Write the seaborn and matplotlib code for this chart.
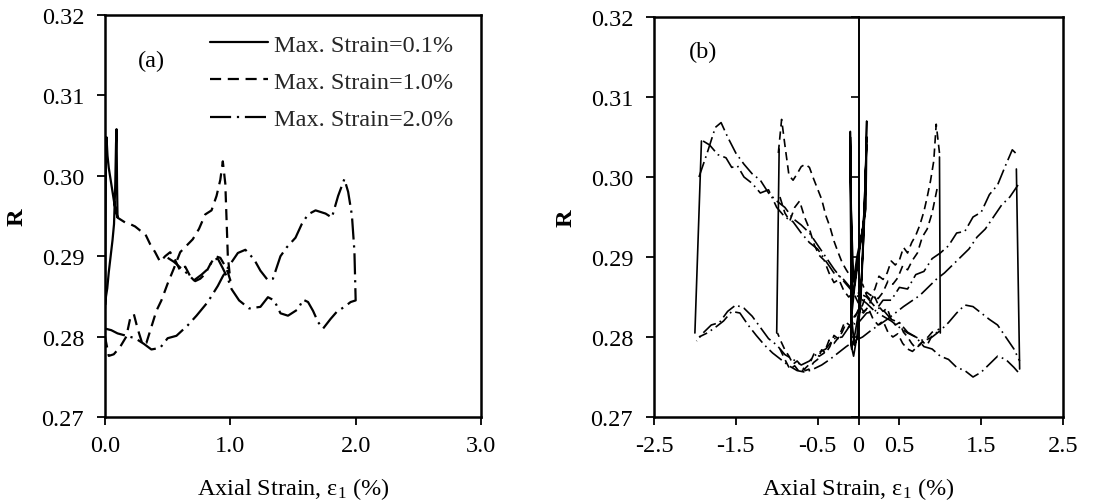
import matplotlib
matplotlib.use("Agg")
import matplotlib.pyplot as plt
from matplotlib.lines import Line2D
import seaborn as sns

# ---------------- Panel (a) data ----------------
a_xticks = [0.0, 1.0, 2.0, 3.0]
a_xticklabels = ["0.0", "1.0", "2.0", "3.0"]
yticks = [0.27, 0.28, 0.29, 0.30, 0.31, 0.32]
yticklabels = ["0.27", "0.28", "0.29", "0.30", "0.31", "0.32"]
legend_labels = ["Max. Strain=0.1%", "Max. Strain=1.0%", "Max. Strain=2.0%"]

a01_x = [0.000, 0.004, 0.008, 0.012, 0.020, 0.030, 0.045, 0.060, 0.075, 0.090, 0.100,
         0.096, 0.092, 0.088, 0.082, 0.072, 0.060, 0.045, 0.030, 0.018, 0.008, 0.003]
a01_R = [0.2835, 0.2935, 0.3030, 0.3048, 0.3025, 0.3010, 0.2995, 0.2980, 0.2965, 0.2955, 0.2948,
         0.2990, 0.3058, 0.3040, 0.2990, 0.2940, 0.2920, 0.2900, 0.2880, 0.2860, 0.2850, 0.2840]

a10_x = [0.00, 0.03, 0.07, 0.12, 0.17, 0.20, 0.23, 0.26, 0.30, 0.33, 0.37, 0.41, 0.45, 0.50,
         0.55, 0.60, 0.65, 0.70, 0.75, 0.80, 0.85, 0.89, 0.92, 0.94, 0.96, 0.98, 1.00,
         0.98, 0.95, 0.92, 0.88, 0.84, 0.80, 0.76, 0.72, 0.68, 0.64, 0.60, 0.56, 0.52,
         0.48, 0.44, 0.40, 0.36, 0.32, 0.28, 0.24, 0.20, 0.16, 0.12, 0.10]
a10_R = [0.2800, 0.2776, 0.2778, 0.2787, 0.2800, 0.2822, 0.2828, 0.2810, 0.2790, 0.2792,
         0.2812, 0.2832, 0.2845, 0.2866, 0.2885, 0.2905, 0.2913, 0.2921, 0.2934, 0.2952,
         0.2957, 0.2975, 0.2995, 0.3018, 0.2990, 0.2900, 0.2870,
         0.2880, 0.2890, 0.2898, 0.2900, 0.2890, 0.2878, 0.2872, 0.2869, 0.2875, 0.2887,
         0.2882, 0.2895, 0.2905, 0.2900, 0.2893, 0.2905, 0.2915, 0.2928, 0.2932, 0.2937,
         0.2940, 0.2942, 0.2946, 0.2948]

a20_x = [0.00, 0.05, 0.10, 0.17, 0.24, 0.31, 0.37, 0.44, 0.50, 0.57, 0.66, 0.73, 0.82, 0.90,
         0.94, 0.99, 1.06, 1.12, 1.19, 1.24, 1.30, 1.34, 1.40, 1.45, 1.52, 1.57, 1.62, 1.68,
         1.76, 1.81, 1.86, 1.91, 1.94, 1.97, 1.99, 2.00,
         1.96, 1.91, 1.85, 1.80, 1.74, 1.70, 1.66, 1.62, 1.58, 1.54, 1.46, 1.40, 1.35, 1.30,
         1.24, 1.15, 1.07, 1.01, 0.98, 0.94, 0.90, 0.86, 0.82, 0.77, 0.71, 0.66, 0.60, 0.55, 0.50]
a20_R = [0.2810, 0.2808, 0.2804, 0.2801, 0.2798, 0.2791, 0.2784, 0.2786, 0.2798, 0.2801,
         0.2814, 0.2826, 0.2843, 0.2863, 0.2875, 0.2888, 0.2904, 0.2908, 0.2896, 0.2882,
         0.2870, 0.2872, 0.2900, 0.2911, 0.2923, 0.2940, 0.2952, 0.2957, 0.2953, 0.2948,
         0.2975, 0.2996, 0.2980, 0.2951, 0.2906, 0.2845,
         0.2843, 0.2837, 0.2831, 0.2822, 0.2810, 0.2818, 0.2832, 0.2843, 0.2846, 0.2834,
         0.2826, 0.2829, 0.2845, 0.2849, 0.2837, 0.2835, 0.2845, 0.2859, 0.2872, 0.2885,
         0.2897, 0.2895, 0.2884, 0.2877, 0.2870, 0.2878, 0.2886, 0.2893, 0.2898]

# ---------------- Panel (b) data ----------------
b_xticks = [-2.5, -1.5, -0.5, 0.0, 0.5, 1.5, 2.5]
b_xticklabels = ["-2.5", "-1.5", "-0.5", "0", "0.5", "1.5", "2.5"]

# solid, max strain 0.1 %: several narrow cycles
b01_x = [0.00, 0.04, 0.08, 0.10, 0.09, 0.06, 0.02, -0.02, -0.06, -0.09, -0.10, -0.08, -0.05,
         -0.01, 0.03, 0.07, 0.09, 0.10, 0.08, 0.05, 0.01, -0.03, -0.07, -0.095, -0.10, -0.09,
         -0.06, -0.02, 0.02, 0.06, 0.085, 0.10, 0.07, 0.03, -0.01, -0.05, -0.08, -0.10,
         -0.085, -0.05, 0.00]
b01_R = [0.2815, 0.2880, 0.2990, 0.3040, 0.2960, 0.2940, 0.2920, 0.2900, 0.2870, 0.2960,
         0.3050, 0.2820, 0.2790, 0.2800, 0.2850, 0.2940, 0.3000, 0.3070, 0.2970, 0.2935,
         0.2910, 0.2880, 0.2850, 0.3000, 0.3057, 0.2790, 0.2776, 0.2800, 0.2840, 0.2920,
         0.3010, 0.3050, 0.2950, 0.2920, 0.2890, 0.2860, 0.2830, 0.3030, 0.2785, 0.2800,
         0.2830]

# dashed, max strain 1.0 %: two cycles, each a rightward and a leftward branch
b10_r1_x = [-0.98, -0.94, -0.90, -0.85, -0.80, -0.75, -0.70, -0.65, -0.60, -0.55, -0.50, -0.45,
            -0.40, -0.35, -0.30, -0.25, -0.20, -0.15, -0.10, -0.05, 0.00, 0.05, 0.10, 0.15,
            0.20, 0.25, 0.30, 0.35, 0.40, 0.45, 0.50, 0.55, 0.60, 0.65, 0.70, 0.75, 0.80,
            0.85, 0.90, 0.95, 0.99]
b10_r1_R = [0.3030, 0.3072, 0.3040, 0.3002, 0.2996, 0.3004, 0.3013, 0.3016, 0.3012, 0.2998,
            0.2985, 0.2972, 0.2952, 0.2938, 0.2920, 0.2906, 0.2893, 0.2884, 0.2876, 0.2868,
            0.2862, 0.2866, 0.2852, 0.2846, 0.2850, 0.2838, 0.2832, 0.2836, 0.2822, 0.2815,
            0.2818, 0.2806, 0.2800, 0.2792, 0.2786, 0.2790, 0.2796, 0.2800, 0.2806, 0.2808,
            0.2810]
b10_l1_x = [0.99, 0.95, 0.92, 0.88, 0.84, 0.80, 0.75, 0.70, 0.65, 0.60, 0.55, 0.50, 0.45,
            0.40, 0.35, 0.30, 0.25, 0.20, 0.15, 0.10, 0.05, 0.00, -0.05, -0.10, -0.15, -0.20,
            -0.25, -0.30, -0.35, -0.40, -0.45, -0.50, -0.55, -0.60, -0.65, -0.70, -0.75,
            -0.80, -0.85, -0.90, -0.95, -0.99]
b10_l1_R = [0.3030, 0.3066, 0.3020, 0.2995, 0.2975, 0.2957, 0.2940, 0.2927, 0.2918, 0.2905,
            0.2912, 0.2896, 0.2890, 0.2895, 0.2880, 0.2872, 0.2876, 0.2860, 0.2852, 0.2856,
            0.2840, 0.2832, 0.2826, 0.2814, 0.2818, 0.2806, 0.2798, 0.2802, 0.2788, 0.2780,
            0.2784, 0.2772, 0.2768, 0.2760, 0.2758, 0.2764, 0.2770, 0.2766, 0.2776, 0.2784,
            0.2795, 0.2805]
b10_r2_x = [-0.96, -0.90, -0.84, -0.78, -0.72, -0.66, -0.60, -0.54, -0.48, -0.42, -0.36, -0.30,
            -0.24, -0.18, -0.12, -0.06, 0.00, 0.06, 0.12, 0.18, 0.24, 0.30, 0.36, 0.42, 0.48,
            0.54, 0.60, 0.66, 0.72, 0.78, 0.84, 0.90, 0.96]
b10_r2_R = [0.2975, 0.2955, 0.2945, 0.2962, 0.2970, 0.2950, 0.2935, 0.2915, 0.2902, 0.2896,
            0.2880, 0.2868, 0.2872, 0.2858, 0.2850, 0.2855, 0.2842, 0.2832, 0.2836, 0.2822,
            0.2815, 0.2820, 0.2806, 0.2800, 0.2804, 0.2792, 0.2785, 0.2782, 0.2788, 0.2794,
            0.2790, 0.2802, 0.2806]
b10_l2_x = [0.96, 0.90, 0.84, 0.78, 0.72, 0.66, 0.60, 0.54, 0.48, 0.42, 0.36, 0.30, 0.24,
            0.18, 0.12, 0.06, 0.00, -0.06, -0.12, -0.18, -0.24, -0.30, -0.36, -0.42, -0.48,
            -0.54, -0.60, -0.66, -0.72, -0.78, -0.84, -0.90, -0.96]
b10_l2_R = [0.2985, 0.2955, 0.2935, 0.2925, 0.2905, 0.2896, 0.2884, 0.2889, 0.2874, 0.2866,
            0.2870, 0.2856, 0.2848, 0.2852, 0.2838, 0.2830, 0.2835, 0.2820, 0.2812, 0.2816,
            0.2800, 0.2792, 0.2796, 0.2780, 0.2776, 0.2780, 0.2766, 0.2760, 0.2756, 0.2764,
            0.2760, 0.2772, 0.2785]

# dash-dot, max strain 2.0 %: two cycles
b20_r1_x = [-1.90, -1.82, -1.72, -1.62, -1.55, -1.48, -1.40, -1.30, -1.20, -1.10, -1.00, -0.90,
            -0.80, -0.70, -0.60, -0.50, -0.40, -0.30, -0.20, -0.10, 0.00, 0.10, 0.20, 0.30,
            0.40, 0.50, 0.60, 0.70, 0.80, 0.90, 1.00, 1.10, 1.20, 1.30, 1.40, 1.50, 1.60,
            1.70, 1.80, 1.90, 1.96]
b20_r1_R = [0.3045, 0.3040, 0.3028, 0.3024, 0.3012, 0.3014, 0.3000, 0.2992, 0.2980, 0.2984,
            0.2962, 0.2950, 0.2944, 0.2930, 0.2918, 0.2910, 0.2895, 0.2880, 0.2874, 0.2862,
            0.2855, 0.2850, 0.2838, 0.2834, 0.2822, 0.2818, 0.2806, 0.2800, 0.2788, 0.2785,
            0.2776, 0.2772, 0.2762, 0.2758, 0.2750, 0.2756, 0.2766, 0.2776, 0.2772, 0.2762,
            0.2755]
b20_l1_x = [1.92, 1.88, 1.80, 1.70, 1.60, 1.50, 1.40, 1.30, 1.20, 1.10, 1.00, 0.90, 0.80,
            0.70, 0.60, 0.50, 0.40, 0.30, 0.20, 0.10, 0.00, -0.10, -0.20, -0.30, -0.40, -0.50,
            -0.60, -0.70, -0.80, -0.90, -1.00, -1.10, -1.20, -1.30, -1.40, -1.50, -1.60,
            -1.70, -1.80, -1.90, -1.98]
b20_l1_R = [0.3030, 0.3034, 0.3015, 0.2990, 0.2978, 0.2956, 0.2950, 0.2932, 0.2930, 0.2914,
            0.2905, 0.2898, 0.2882, 0.2878, 0.2860, 0.2862, 0.2846, 0.2846, 0.2832, 0.2830,
            0.2818, 0.2815, 0.2800, 0.2798, 0.2785, 0.2780, 0.2770, 0.2765, 0.2772, 0.2778,
            0.2790, 0.2798, 0.2812, 0.2826, 0.2836, 0.2840, 0.2832, 0.2818, 0.2815, 0.2805,
            0.2795]
b20_r2_x = [-1.95, -1.85, -1.75, -1.68, -1.60, -1.50, -1.40, -1.30, -1.20, -1.10, -1.00, -0.90,
            -0.80, -0.70, -0.60, -0.50, -0.40, -0.30, -0.20, -0.10, 0.00, 0.10, 0.20, 0.30,
            0.40, 0.50, 0.60, 0.70, 0.80, 0.90, 1.00, 1.10, 1.20, 1.30, 1.40, 1.50, 1.60,
            1.70, 1.80, 1.90, 1.97]
b20_r2_R = [0.3000, 0.3030, 0.3062, 0.3068, 0.3050, 0.3030, 0.3016, 0.3004, 0.2996, 0.2980,
            0.2970, 0.2962, 0.2948, 0.2940, 0.2930, 0.2915, 0.2900, 0.2885, 0.2872, 0.2860,
            0.2850, 0.2842, 0.2832, 0.2826, 0.2820, 0.2812, 0.2805, 0.2800, 0.2795, 0.2800,
            0.2808, 0.2818, 0.2830, 0.2840, 0.2838, 0.2830, 0.2822, 0.2815, 0.2800, 0.2785,
            0.2770]
b20_l2_x = [1.95, 1.85, 1.75, 1.65, 1.55, 1.45, 1.35, 1.25, 1.15, 1.05, 0.95, 0.85, 0.75,
            0.65, 0.55, 0.45, 0.35, 0.25, 0.15, 0.05, -0.05, -0.15, -0.25, -0.35, -0.45, -0.55,
            -0.65, -0.75, -0.85, -0.95, -1.05, -1.15, -1.25, -1.35, -1.45, -1.55, -1.65,
            -1.75, -1.85, -1.95]
b20_l2_R = [0.2990, 0.2975, 0.2965, 0.2950, 0.2935, 0.2925, 0.2910, 0.2900, 0.2890, 0.2880,
            0.2872, 0.2862, 0.2852, 0.2845, 0.2838, 0.2830, 0.2822, 0.2815, 0.2808, 0.2800,
            0.2795, 0.2788, 0.2780, 0.2772, 0.2765, 0.2760, 0.2756, 0.2758, 0.2764, 0.2772,
            0.2780, 0.2790, 0.2802, 0.2815, 0.2830, 0.2832, 0.2820, 0.2812, 0.2805, 0.2800]

# strain reversals (drawn as continuous lines)
rev_x_lo = [-2.00, -1.00, 1.00, 1.97]
rev_x_hi = [-1.92, -0.97, 0.99, 1.93]
rev_R_lo = [0.2805, 0.2805, 0.2805, 0.2760]
rev_R_hi = [0.3045, 0.3035, 0.3025, 0.3010]

# ---------------- styling ----------------
sns.set_theme(style="ticks")
plt.rcParams["font.family"] = ["Liberation Serif", "DejaVu Serif"]
plt.rcParams["mathtext.fontset"] = "custom"
plt.rcParams["mathtext.rm"] = "Liberation Serif"
plt.rcParams["mathtext.it"] = "Liberation Serif:italic"

FS = 17.5
LS_SOLID = "-"
LS_DASH = (0, (5, 3))
LS_DASHDOT = (0, (9.5, 2.6, 1.0, 2.6))

fig = plt.figure(figsize=(11.12, 5.02), dpi=100)
axA = fig.add_axes([105 / 1112, 84 / 502, 376 / 1112, 402 / 502])
axB = fig.add_axes([654 / 1112, 84 / 502, 409 / 1112, 400 / 502])


def draw(ax, xs, ys, ls, lw):
    sns.lineplot(x=xs, y=ys, sort=False, estimator=None, color="black",
                 linestyle=ls, linewidth=lw, ax=ax, legend=False)


# panel (a)
draw(axA, a01_x, a01_R, LS_SOLID, 1.6)
draw(axA, a10_x, a10_R, LS_DASH, 1.6)
draw(axA, a20_x, a20_R, LS_DASHDOT, 1.6)

# panel (b)
lwB = 1.2
draw(axB, b01_x, b01_R, LS_SOLID, lwB)
for xs, ys in [(b10_r1_x, b10_r1_R), (b10_l1_x, b10_l1_R), (b10_r2_x, b10_r2_R), (b10_l2_x, b10_l2_R)]:
    draw(axB, xs, ys, LS_DASH, lwB)
for xs, ys in [(b20_r1_x, b20_r1_R), (b20_l1_x, b20_l1_R), (b20_r2_x, b20_r2_R), (b20_l2_x, b20_l2_R)]:
    draw(axB, xs, ys, LS_DASHDOT, lwB)
for xl, xh, rl, rh in zip(rev_x_lo, rev_x_hi, rev_R_lo, rev_R_hi):
    draw(axB, [xl, xh], [rl, rh], LS_SOLID, lwB)

xlabel = r"Axial Strain, ε$_\mathrm{1}$ (%)"
for ax, xt, xtl, xlim in [(axA, a_xticks, a_xticklabels, (0, 3.0)),
                          (axB, b_xticks, b_xticklabels, (-2.5, 2.5))]:
    ax.set_xlim(*xlim)
    ax.set_ylim(0.27, 0.32)
    ax.set_xticks(xt)
    ax.set_xticklabels(xtl)
    ax.set_yticks(yticks)
    ax.set_yticklabels(yticklabels)
    ax.tick_params(axis="both", direction="out", length=6, width=1.3,
                   labelsize=FS, color="black", labelcolor="black")
    ax.tick_params(axis="y", pad=9)
    ax.tick_params(axis="x", pad=7)
    for sp in ax.spines.values():
        sp.set_visible(True)
        sp.set_linewidth(1.8)
        sp.set_color("black")
    ax.set_xlabel(xlabel, fontsize=FS, color="black", labelpad=14)
    ax.set_ylabel("R", fontsize=FS, fontweight="bold", color="black", labelpad=10)
    ax.set_facecolor("white")

# vertical axis through zero strain in panel (b)
sec = axB.secondary_yaxis(0.5)
sec.set_yticks(yticks)
sec.tick_params(axis="y", direction="out", length=6, width=1.2, labelleft=False,
                labelright=False, left=True, right=False, color="black")
for name, sp in sec.spines.items():
    sp.set_linewidth(1.4)
    sp.set_color("black")

axA.text(0.263, 0.3143, "(a)", fontsize=FS, ha="left", va="center", color="black")
axB.text(-2.07, 0.3157, "(b)", fontsize=FS, ha="left", va="center", color="black")

handles = [Line2D([], [], color="black", lw=1.6, linestyle=LS_SOLID),
           Line2D([], [], color="black", lw=1.6, linestyle=LS_DASH),
           Line2D([], [], color="black", lw=1.6, linestyle=LS_DASHDOT)]
axA.legend(handles, legend_labels, loc="upper left", bbox_to_anchor=(0.279, 0.953),
           frameon=False, fontsize=FS, handlelength=2.4, handletextpad=0.25,
           labelspacing=0.62, borderpad=0, borderaxespad=0)

fig.savefig("out.png", dpi=100, facecolor="white")
